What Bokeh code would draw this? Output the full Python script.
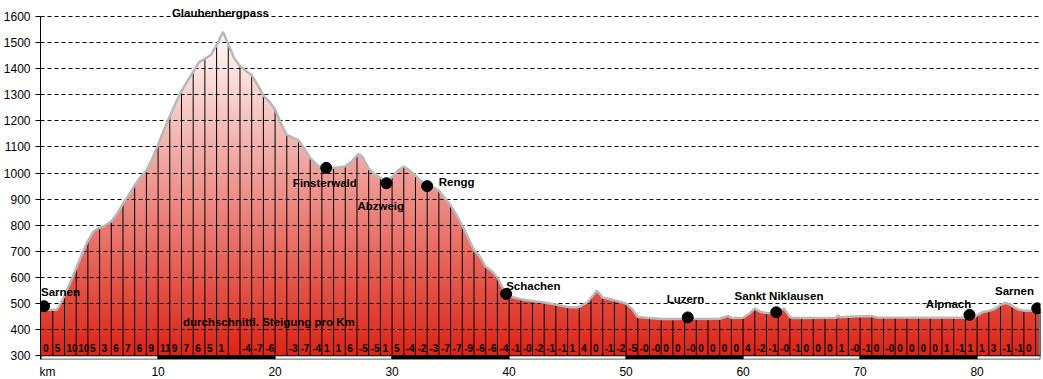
import numpy as np
from bokeh.plotting import figure
from bokeh.models import Range1d, FixedTicker, ColumnDataSource
from bokeh.core.properties import value
from bokeh.embed import file_html
from bokeh.resources import INLINE

# ---------------- data ----------------
prof_km = [0, 0.3, 1.3, 1.5, 2, 2.5, 3, 3.5, 4, 4.5, 5, 5.5, 6, 6.5, 7, 7.5, 8, 8.5, 9, 9.5,
           10, 10.5, 11, 11.5, 12, 12.5, 13, 13.5, 14, 14.5, 15, 15.55, 16, 16.5, 17, 17.5,
           18, 18.5, 19, 19.5, 20, 20.5, 21, 21.5, 22, 22.5, 23, 23.5, 24, 24.5, 25, 25.5,
           26, 26.5, 27, 27.2, 27.5, 28, 28.5, 29, 29.5, 30, 30.5, 31, 31.5, 32, 32.5, 33,
           33.5, 34, 34.5, 35, 35.5, 36, 36.5, 37, 37.5, 38, 38.5, 39, 39.5, 40, 41, 42, 43,
           44, 45, 45.7, 46, 46.7, 47.5, 47.8, 48, 49, 50, 50.5, 51, 52, 53, 58, 58.7, 59,
           60, 60.5, 61, 61.5, 62, 62.8, 63.5, 64, 64.3, 68, 68.1, 68.3, 69, 71, 71.5, 79,
           79.4, 79.6, 80, 80.5, 81, 81.5, 82, 82.4, 82.8, 83.2, 83.6, 84, 85, 85.4]
prof_elev = [478, 476, 476, 486, 530, 582, 635, 690, 740, 778, 790, 800, 815, 845, 882, 916,
             953, 985, 1010, 1055, 1109, 1165, 1218, 1268, 1314, 1352, 1388, 1425, 1438, 1452,
             1490, 1541, 1494, 1440, 1410, 1392, 1375, 1338, 1297, 1275, 1244, 1190, 1147,
             1136, 1126, 1094, 1058, 1035, 1015, 1017, 1020, 1022, 1026, 1042, 1068, 1073,
             1060, 1017, 995, 982, 968, 985, 1010, 1025, 1010, 990, 968, 955, 946, 933, 905,
             876, 840, 799, 752, 705, 680, 641, 625, 600, 556, 528, 517, 510, 504, 496, 487,
             485, 487, 505, 549, 535, 523, 513, 500, 480, 449, 445, 441, 442, 453, 445, 446,
             460, 481, 468, 464, 462, 481, 448, 445, 446, 455, 448, 450, 452, 447, 446, 443,
             444, 455, 468, 472, 479, 495, 503, 497, 485, 476, 473, 473, 480]

place_names = ["Sarnen", "Finsterwald", "Abzweig", "Rengg", "Schachen", "Luzern",
               "Sankt Niklausen", "Alpnach", "Sarnen"]
place_km = [0.25, 24.37, 29.52, 33.0, 39.75, 55.27, 62.83, 79.35, 85.14]
place_elev = [490, 1020, 961, 950, 537, 447, 467, 457, 482]

pass_name = "Glaubenbergpass"
pass_km = 15.33

grade_labels = ["0", "5", "10", "10", "5", "3", "6", "7", "6", "9", "11", "9", "7", "6", "5",
                "1", "", "-4", "-7", "-6", "", "-3", "-7", "-4", "1", "1", "6", "-5", "-5",
                "1", "5", "-4", "-2", "-3", "-7", "-7", "-9", "-6", "-6", "-4", "-1", "-0",
                "-2", "-1", "-1", "1", "4", "0", "-1", "-2", "-5", "-0", "-0", "0", "0", "-0",
                "0", "0", "0", "0", "4", "-2", "-1", "-0", "-1", "0", "0", "0", "1", "-0",
                "-1", "0", "-0", "0", "0", "0", "0", "1", "-1", "1", "1", "3", "-1", "-1", "0"]
grade_title = "durchschnittl. Steigung pro Km"

y_ticks = list(range(300, 1700, 100))
x_ticks = [10, 20, 30, 40, 50, 60, 70, 80]

# ---------------- layout / styles ----------------
X_END = 85.4
FONT = "Liberation Sans"
Y_BOT, Y_TOP = 285.8, 1630.6

p = figure(frame_width=1000, frame_height=351,
           x_range=Range1d(-0.05, 85.42), y_range=Range1d(Y_BOT, Y_TOP),
           output_backend="svg", toolbar_location=None,
           min_border_left=40, min_border_right=3, min_border_top=8, min_border_bottom=20)
p.outline_line_color = None
p.background_fill_color = "white"
p.border_fill_color = "white"

# gradient fill: stacked regions, top band first
km_arr = np.array(prof_km, dtype=float)
el_arr = np.array(prof_elev, dtype=float)
bottom_rgb = np.array([220, 36, 22])
top_rgb = np.array([255, 255, 255])
band_step = 10
tops = np.arange(1560, 300, -band_step)
for hi in tops:
    t = np.clip((hi - band_step / 2 - 300) / (1560 - 300), 0, 1)
    c = bottom_rgb * (1 - t) + top_rgb * t
    col = "#%02x%02x%02x" % tuple(int(round(v)) for v in c)
    xs = [km_arr[0]]
    for i in range(len(km_arr) - 1):
        x0, y0, x1, y1 = km_arr[i], el_arr[i], km_arr[i + 1], el_arr[i + 1]
        if (y0 - hi) * (y1 - hi) < 0:
            xs.append(x0 + (hi - y0) / (y1 - y0) * (x1 - x0))
        xs.append(x1)
    xs = np.array(xs)
    ys = np.minimum(np.interp(xs, km_arr, el_arr), hi)
    r = p.varea(x=xs, y1=ys, y2=300, fill_color=col, fill_alpha=1.0)
    r.level = "image"

# grid
p.xgrid.visible = False
p.ygrid.ticker = FixedTicker(ticks=[t for t in y_ticks if t > 300])
p.ygrid.grid_line_color = "black"
p.ygrid.grid_line_dash = "4 3"
p.ygrid.grid_line_width = 1
p.ygrid.level = "underlay"

# km lines
km_marks = np.arange(1, int(X_END) + 1)
km_tops = np.interp(km_marks, km_arr, el_arr)
p.segment(x0=km_marks, y0=300, x1=km_marks, y1=km_tops, line_color="black", line_width=1)

# outline
p.line(prof_km, prof_elev, line_color="#b8b8b8", line_width=2.5)

# teal end line
p.segment(x0=[X_END - 0.04], y0=[300], x1=[X_END - 0.04], y1=[prof_elev[-1]],
          line_color="#1f9e9e", line_width=1.5)

# scale bar
bar_left = list(range(0, 90, 10))
bar_right = [min(v, X_END) for v in bar_left[1:] + [X_END]]
bar_cols = ["white" if i % 2 == 0 else "black" for i in range(len(bar_left))]
p.quad(left=bar_left, right=bar_right, bottom=286.8, top=300, fill_color=bar_cols,
       line_color="black", line_width=1)

# gradient labels
src_g = ColumnDataSource(dict(x=list(range(len(grade_labels))),
                              y=[330] * len(grade_labels), t=grade_labels))
p.text(x="x", y="y", text="t", source=src_g, x_offset=2, text_align="left",
       text_baseline="middle", text_font=value(FONT), text_font_size="10px",
       text_font_style="bold", text_color="black")
p.text(x=[19.47], y=[429], text=[grade_title], text_align="center", text_baseline="middle",
       text_font=value(FONT), text_font_size="11.5px", text_font_style="bold",
       text_color="black")

# place dots + labels
p.scatter(place_km, place_elev, size=11, color="black")
lab_x = [1.66, 24.25, 29.03, 35.52, 42.07, 55.08, 63.07, 77.56, 83.2, pass_km]
lab_y = [544, 961, 872, 967, 569, 518, 531, 499, 548, 1615]
p.text(x=lab_x, y=lab_y, text=place_names + [pass_name], text_align="center",
       text_baseline="middle", text_font=value(FONT), text_font_size="11.5px",
       text_font_style="bold", text_color="black")

# axes
ya = p.yaxis[0]
ya.ticker = FixedTicker(ticks=y_ticks)
ya.bounds = (Y_BOT, 1600)
ya.axis_line_color = "black"
ya.major_tick_line_color = "black"
ya.major_tick_out = 5
ya.major_tick_in = 0
ya.minor_tick_line_color = None
ya.major_label_standoff = 5
ya.major_label_text_font = FONT
ya.major_label_text_font_size = "12px"
ya.major_label_text_color = "black"

xa = p.xaxis[0]
xa.ticker = FixedTicker(ticks=[0.55] + x_ticks)
xa.major_label_overrides = {0.55: "km"}
xa.axis_line_color = None
xa.major_tick_line_color = None
xa.minor_tick_line_color = None
xa.major_tick_out = 0
xa.major_tick_in = 0
xa.major_label_standoff = 5
xa.major_label_text_font = FONT
xa.major_label_text_font_size = "12px"
xa.major_label_text_color = "black"

open("out.html", "w").write(file_html(p, INLINE))
